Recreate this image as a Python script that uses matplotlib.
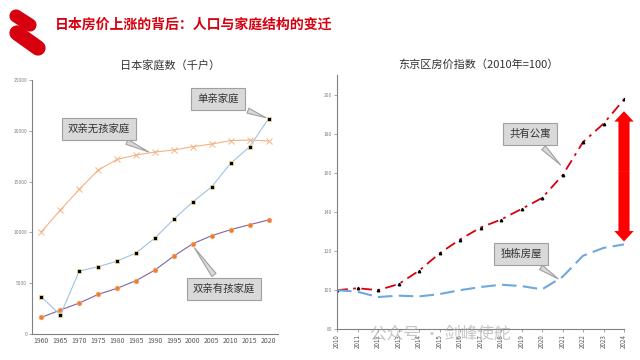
import numpy as np
from matplotlib import pyplot as plt
from matplotlib.lines import Line2D

plt.rcParams['font.family'] = ['Noto Sans CJK SC', 'DejaVu Sans']

# 左: 日本家庭数（千户）
years = ['1960', '1965', '1970', '1975', '1980', '1985', '1990',
         '1995', '2000', '2005', '2010', '2015', '2020']
singleParent = [3640, 1870, 6200, 6620, 7180, 7970, 9450,
                11320, 13000, 14500, 16800, 18430, 21190]
coupleNoKids = [10070, 12200, 14240, 16140, 17190, 17620, 17910,
                18110, 18440, 18700, 19030, 19090, 19000]
coupleKids = [1640, 2360, 3050, 3900, 4500, 5250, 6300,
              7680, 8890, 9680, 10270, 10760, 11220]

# 右: 东京区房价指数（2010年=100）
idxYears = list(range(2010, 2025))
condo = [100, 101, 100, 103.1, 109.9, 118.8, 125.9, 132, 136.1,
         141.5, 147.1, 158.7, 175.7, 185.1, 197.5]
detached = [100, 99.2, 96.5, 97.2, 96.8, 98, 100, 101.6, 102.8,
            102.1, 100.4, 106.8, 117.6, 121.6, 123.4]

RED = '#d7000f'
BOX = dict(boxstyle='square,pad=0.6', fc='#d9d9d9', ec='#a0a0a0', lw=0.8)
WEDGE = dict(arrowstyle='wedge,tail_width=0.5,shrink_factor=0.5',
             fc='#d9d9d9', ec='#a0a0a0', lw=0.8)


def callout(ax, text, xy, boxPix):
    # boxPix は画像上のピクセル座標（左上原点）
    ax.annotate(text, xy=xy, xycoords='data',
                xytext=(boxPix[0] / 640, 1 - boxPix[1] / 360),
                textcoords='figure fraction', ha='center', va='center',
                fontsize=7.5, color='#333333', bbox=BOX, arrowprops=WEDGE)


fig = plt.figure(figsize=(6.4, 3.6), dpi=100)

# ロゴとタイトル
fig.add_artist(Line2D([16 / 640, 30 / 640], [1 - 16 / 360, 1 - 25 / 360],
                      lw=9.5, color=RED, solid_capstyle='round'))
fig.add_artist(Line2D([17 / 640, 38 / 640], [1 - 33 / 360, 1 - 48 / 360],
                      lw=11, color=RED, solid_capstyle='round'))
fig.text(55 / 640, 1 - 25 / 360, '日本房价上涨的背后：人口与家庭结构的变迁',
         color=RED, fontsize=10, fontweight='bold', va='center')

# ---- 左のグラフ ----
ax1 = fig.add_axes([32 / 640, 1 - 334 / 360, 246 / 640, 254 / 360])
x = np.arange(len(years))
ax1.plot(x, coupleNoKids, color='#f4b183', lw=0.8, marker='x', ms=4,
         mew=0.7, mec='#f4b183')
ax1.plot(x, coupleKids, color='#8064a2', lw=0.8, marker='o', ms=3.5,
         mfc='#ed7d31', mec='#f4b183', mew=0.4)
ax1.plot(x, singleParent, color='#9dc3e6', lw=0.8, marker='s', ms=3.2,
         mfc='black', mec='#ffe699', mew=0.5)
ax1.set_xlim(-0.5, len(years) - 0.5)
ax1.set_ylim(0, 25000)
ax1.set_xticks(x)
ax1.set_xticklabels(years, fontsize=5, color='#595959')
ax1.set_yticks(np.arange(0, 25001, 5000))
ax1.set_yticklabels([str(v) for v in range(0, 25001, 5000)],
                    fontsize=3.5, color='#808080')
ax1.tick_params(axis='x', length=0, pad=2)
ax1.tick_params(axis='y', length=2, width=0.5, color='#808080', pad=1.5)
for s in ['top', 'right']:
    ax1.spines[s].set_visible(False)
for s in ['left', 'bottom']:
    ax1.spines[s].set_color('#808080')
    ax1.spines[s].set_linewidth(0.8)
fig.text(170 / 640, 1 - 65 / 360, '日本家庭数（千户）', fontsize=8,
         ha='center', va='center', color='#333333')

callout(ax1, '单亲家庭', (12, singleParent[12]), (218, 99))
callout(ax1, '双亲无孩家庭', (5.8, 17800), (99, 129))
callout(ax1, '双亲有孩家庭', (8, 8700), (224, 289))

# ---- 右のグラフ ----
ax2 = fig.add_axes([337 / 640, 1 - 329.3 / 360, 287 / 640, 254.3 / 360])
ax2.plot(idxYears, condo, color=RED, lw=1.3, ls=(0, (6, 3, 1.5, 3)),
         marker='^', ms=1.8, mfc='black', mec='black')
ax2.plot(idxYears, detached, color='#6fa8dc', lw=1.5, ls=(0, (7, 3)))
ax2.set_xlim(2010, 2024)
ax2.set_ylim(80, 210)
ax2.set_xticks(idxYears)
ax2.set_xticklabels([str(y) for y in idxYears], rotation=90,
                    fontsize=4.5, color='#595959')
ax2.set_yticks(np.arange(80, 201, 20))
ax2.set_yticklabels([str(v) for v in range(80, 201, 20)],
                    fontsize=3.5, color='#808080')
ax2.tick_params(length=2, width=0.5, color='#808080', pad=1.5)
for s in ['top', 'right']:
    ax2.spines[s].set_visible(False)
for s in ['left', 'bottom']:
    ax2.spines[s].set_color('#808080')
    ax2.spines[s].set_linewidth(0.8)
fig.text(478 / 640, 1 - 65 / 360, '东京区房价指数（2010年=100）', fontsize=8,
         ha='center', va='center', color='#333333')

# 上下の赤い矢印（中央から両端へ）
arrowMid = (detached[-1] + condo[-1]) / 2
arrowStyle = dict(arrowstyle='simple,head_length=0.75,head_width=1.4,tail_width=0.8',
                  mutation_scale=10, fc='#ff0000', ec='none',
                  shrinkA=0, shrinkB=0)
ax2.annotate('', xy=(2024, condo[-1] - 6), xytext=(2024, arrowMid),
             arrowprops=arrowStyle)
ax2.annotate('', xy=(2024, detached[-1] + 1.5), xytext=(2024, arrowMid),
             arrowprops=arrowStyle)

callout(ax2, '共有公寓', (2021.0, 163), (530, 134))
callout(ax2, '独栋房屋', (2020.9, 105), (521, 254))

# 透かし
fig.text(370 / 640, 1 - 335 / 360, '公众号 · 剑峰使舵', fontsize=12,
         color='#a0a0a0', alpha=0.6, va='center')

fig.savefig('out.png')
